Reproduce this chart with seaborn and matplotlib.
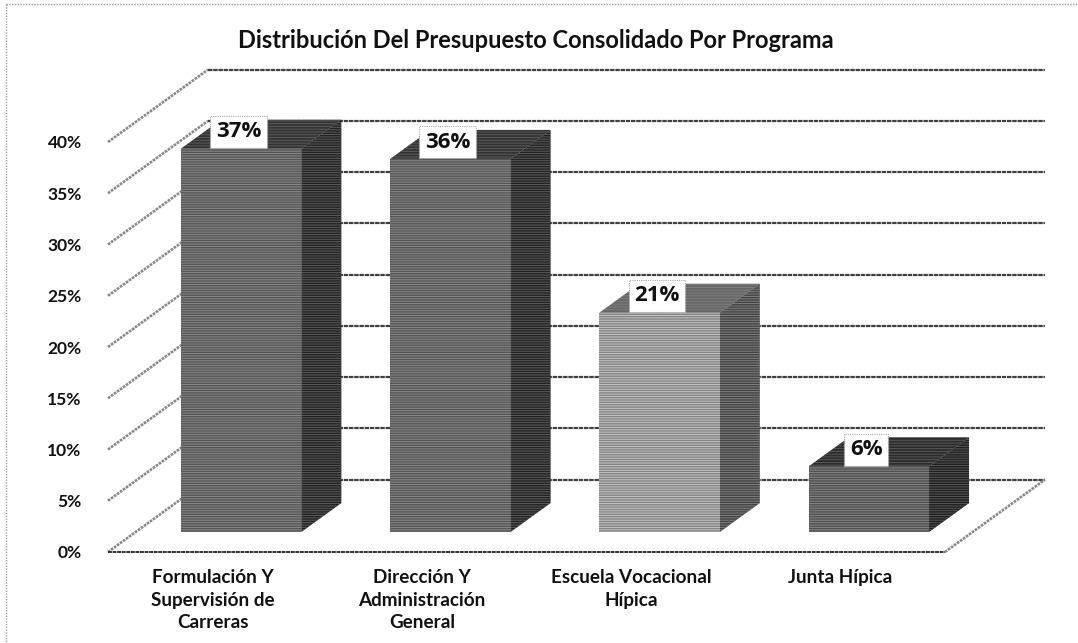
import matplotlib
matplotlib.use("Agg")
import matplotlib.pyplot as plt
from matplotlib.lines import Line2D
from matplotlib.patches import Polygon
import pandas as pd
import seaborn as sns

# ---- data ----
categories = ["Formulación Y\nSupervisión de\nCarreras",
              "Dirección Y\nAdministración\nGeneral",
              "Escuela Vocacional\nHípica",
              "Junta Hípica"]
shares = [37.4, 36.4, 21.4, 6.4]
point_labels = ["37%", "36%", "21%", "6%"]
y_ticks = [0, 5, 10, 15, 20, 25, 30, 35, 40]
y_tick_labels = ["0%", "5%", "10%", "15%", "20%", "25%", "30%", "35%", "40%"]
title = "Distribución Del Presupuesto Consolidado Por Programa"

# ---- style ----
front_cols = ["#555555", "#555555", "#858585", "#505050"]
side_cols = ["#222222", "#222222", "#444444", "#1f1f1f"]
top_cols = ["#333333", "#333333", "#666666", "#2c2c2c"]
tex_front = ["#8a8a8a", "#8a8a8a", "#c4c4c4", "#868686"]
tex_side = ["#5c5c5c", "#5c5c5c", "#808080", "#585858"]
grid_col = "#404040"
diag_col = "#888888"
font = ["Lato", "DejaVu Sans"]

sns.set_theme(style="white")
plt.rcParams["font.family"] = font
plt.rcParams["hatch.linewidth"] = 0.7

W, H = 1078, 643
fig = plt.figure(figsize=(W / 100, H / 100), dpi=100, facecolor="white")


def axes_rect(left, right, bottom, top):
    return [left / W, 1 - bottom / H, (right - left) / W, (bottom - top) / H]


# front plane of the floor carries the axis labels
ax = fig.add_axes(axes_rect(108, 945, 552, 142))
# bars stand a little deeper inside the box
ax_bars = fig.add_axes(axes_rect(136.5, 973.5, 532, 122))

for a in (ax, ax_bars):
    a.set_xlim(-0.5, 3.5)
    a.set_ylim(0, 40)
    a.patch.set_alpha(0)
    for s in a.spines.values():
        s.set_visible(False)

DX = 100 / 209.25  # depth in category units
DY = 7.06          # depth in percent units
dither = (0, (2.0, 0.35))

# walls
for t in y_ticks:
    ax.plot([-0.5, -0.5 + DX], [t, t + DY], color=diag_col, lw=1.9,
            ls=(0, (1.0, 0.4)), clip_on=False, zorder=1)
    ax.plot([-0.5 + DX, 3.5 + DX], [t + DY, t + DY], color=grid_col, lw=1.6,
            ls=dither, clip_on=False, zorder=1)
ax.plot([-0.5, 3.5], [0, 0], color="#303030", lw=1.4, ls=dither, clip_on=False, zorder=1)
ax.plot([3.5, 3.5 + DX], [0, DY], color=diag_col, lw=1.9, ls=(0, (1.0, 0.4)),
        clip_on=False, zorder=1)

ax.set_xticks(range(len(categories)))
ax.set_xticklabels(categories, fontsize=13.6, fontweight="bold", color="#111111", linespacing=1.42)
ax.set_yticks(y_ticks)
ax.set_yticklabels(y_tick_labels, fontsize=12.5, fontweight="bold", color="#111111")
ax.tick_params(axis="x", length=0, pad=12)
ax.tick_params(axis="y", length=0, pad=19)

# bars
df = pd.DataFrame({"program": categories, "share": shares})
sns.barplot(data=df, x="program", y="share", hue="program", palette=front_cols,
            width=0.575, legend=False, ax=ax_bars, saturation=1, zorder=3)
ax_bars.set_xlim(-0.5, 3.5)
ax_bars.set_ylim(0, 40)
ax_bars.set_xlabel("")
ax_bars.set_ylabel("")
ax_bars.set_xticks([])
ax_bars.set_yticks([])

ddx, ddy = DX * 0.4, DY * 0.4
for i, p in enumerate(ax_bars.patches):
    x0, x1 = p.get_x(), p.get_x() + p.get_width()
    h = p.get_height()
    p.set_linewidth(0)
    p.set_edgecolor(tex_front[i])
    p.set_hatch("-------")
    p.set_clip_on(False)
    side = Polygon([(x1, 0), (x1 + ddx, ddy), (x1 + ddx, h + ddy), (x1, h)],
                   facecolor=side_cols[i], edgecolor=tex_side[i], hatch="-------",
                   lw=0, clip_on=False, zorder=2.5)
    top = Polygon([(x0, h), (x0 + ddx, h + ddy), (x1 + ddx, h + ddy), (x1, h)],
                  facecolor=top_cols[i], edgecolor=tex_side[i], hatch="------",
                  lw=0, clip_on=False, zorder=2.5)
    ax_bars.add_patch(side)
    ax_bars.add_patch(top)
    ax_bars.annotate(point_labels[i], (i, h), xytext=(-2, 12), textcoords="offset points",
                     ha="center", va="center", fontsize=16, fontweight="bold",
                     family=["Open Sans", "DejaVu Sans"], color="#111111", zorder=6,
                     annotation_clip=False,
                     bbox=dict(boxstyle="square,pad=0.25", fc="white", ec="#aaaaaa",
                               lw=0.8, ls=(0, (1, 1))))

fig.text(536 / W, 1 - 40 / H, title, ha="center", va="center", fontsize=17,
         fontweight="bold", color="#111111")

# outer border of the scanned chart
fig.add_artist(Line2D([6 / W, 6 / W], [1 - 4 / H, 0], color="#999999", lw=1, ls=(0, (1, 1))))
fig.add_artist(Line2D([6 / W, 1], [1 - 4 / H, 1 - 4 / H], color="#999999", lw=1, ls=(0, (1, 1))))

fig.savefig("out.png", dpi=100, facecolor="white")
